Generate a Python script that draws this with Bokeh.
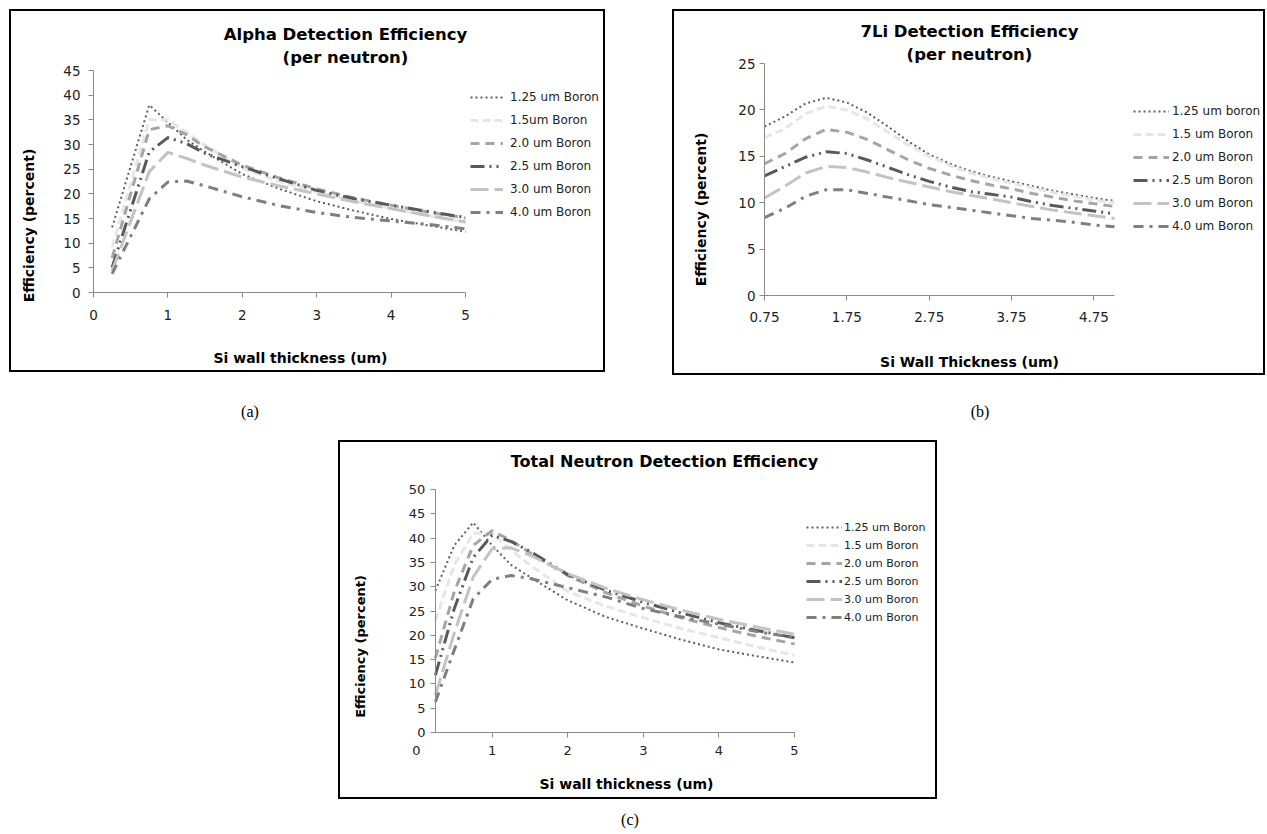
import math
from bokeh.plotting import figure
from bokeh.models import Label, Legend, LegendItem, FixedTicker, Range1d, Spacer, Div, LinearAxis
from bokeh.layouts import row, column
from bokeh.embed import file_html
from bokeh.resources import INLINE

# ---------------- data ----------------
labels_a = ["1.25 um Boron", "1.5um Boron", "2.0 um Boron", "2.5 um Boron", "3.0 um Boron", "4.0 um Boron"]
labels_b = ["1.25 um boron", "1.5 um Boron", "2.0 um Boron", "2.5 um Boron", "3.0 um Boron", "4.0 um Boron"]
labels_c = ["1.25 um Boron", "1.5 um Boron", "2.0 um Boron", "2.5 um Boron", "3.0 um Boron", "4.0 um Boron"]

# (a) Alpha detection efficiency
x_a = [0.25, 0.75, 1.0, 1.25, 1.5, 2.0, 2.5, 3.0, 3.5, 4.0, 4.5, 5.0]
a125 = [13.2, 38.0, 34.5, 31.0, 28.5, 24.0, 21.0, 18.5, 16.6, 14.9, 13.6, 12.3]
a15 = [9.2, 35.0, 35.0, 32.5, 29.8, 25.2, 22.5, 20.4, 18.6, 17.0, 15.6, 14.2]
a20 = [7.0, 33.0, 33.8, 32.0, 29.5, 25.8, 23.2, 21.0, 19.2, 17.7, 16.3, 15.1]
a25 = [5.1, 28.5, 31.4, 30.2, 28.2, 25.5, 23.0, 20.7, 19.0, 17.7, 16.4, 15.2]
a30 = [4.4, 24.5, 28.4, 27.2, 25.8, 23.4, 21.6, 20.0, 18.4, 17.0, 15.6, 14.3]
a40 = [3.8, 19.0, 22.4, 22.6, 21.6, 19.4, 17.6, 16.2, 15.2, 14.5, 13.8, 12.9]

# (b) 7Li detection efficiency
x_b = [0.75, 1.0, 1.25, 1.5, 1.75, 2.0, 2.25, 2.5, 2.75, 3.0, 3.25, 3.5, 3.75, 4.0, 4.25, 4.5, 4.75, 5.0]
b125 = [18.2, 19.3, 20.7, 21.3, 20.8, 19.7, 18.2, 16.6, 15.2, 14.2, 13.4, 12.8, 12.3, 11.8, 11.3, 10.9, 10.5, 10.2]
b15 = [17.0, 18.0, 19.6, 20.4, 20.0, 19.0, 17.6, 16.2, 15.0, 14.0, 13.2, 12.6, 12.1, 11.6, 11.1, 10.7, 10.3, 10.0]
b20 = [14.2, 15.3, 16.9, 17.9, 17.6, 16.8, 15.7, 14.6, 13.7, 13.0, 12.4, 11.9, 11.5, 11.0, 10.6, 10.2, 9.9, 9.6]
b25 = [12.9, 13.9, 14.9, 15.5, 15.3, 14.6, 13.8, 13.0, 12.3, 11.7, 11.2, 10.9, 10.6, 10.1, 9.7, 9.4, 9.1, 8.8]
b30 = [10.5, 11.8, 13.2, 13.9, 13.8, 13.3, 12.7, 12.2, 11.7, 11.2, 10.8, 10.4, 10.0, 9.6, 9.2, 8.9, 8.6, 8.3]
b40 = [8.4, 9.4, 10.7, 11.4, 11.4, 11.0, 10.6, 10.2, 9.8, 9.5, 9.2, 8.9, 8.6, 8.3, 8.1, 7.9, 7.6, 7.4]

# (c) Total neutron detection efficiency
x_c = [0.25, 0.5, 0.75, 1.0, 1.25, 1.5, 2.0, 2.5, 3.0, 3.5, 4.0, 4.5, 5.0]
c125 = [29.2, 38.5, 43.2, 38.5, 34.5, 32.0, 27.2, 23.8, 21.4, 19.1, 17.1, 15.7, 14.4]
c15 = [23.0, 34.5, 41.0, 41.0, 37.5, 34.5, 29.0, 26.0, 23.6, 21.4, 19.5, 17.6, 15.9]
c20 = [15.3, 29.0, 38.5, 41.5, 39.5, 37.0, 32.3, 28.8, 26.0, 23.6, 21.6, 19.8, 18.2]
c25 = [11.8, 25.5, 36.0, 40.6, 39.3, 37.3, 32.5, 29.3, 26.8, 24.6, 22.6, 21.0, 19.5]
c30 = [7.7, 20.5, 32.0, 37.8, 38.0, 36.5, 32.7, 29.7, 27.3, 25.2, 23.3, 21.7, 20.2]
c40 = [6.3, 17.0, 27.5, 31.5, 32.3, 31.7, 29.8, 27.9, 25.5, 23.8, 22.3, 20.8, 19.5]

ticks_a_x = [0, 1, 2, 3, 4, 5]
ticks_a_y = [0, 5, 10, 15, 20, 25, 30, 35, 40, 45]
ticks_b_x = [0.75, 1.75, 2.75, 3.75, 4.75]
ticks_b_y = [0, 5, 10, 15, 20, 25]
ticks_c_x = [1, 2, 3, 4, 5]
ticks_c_x0 = [0]
ticks_c_y = [0, 5, 10, 15, 20, 25, 30, 35, 40, 45, 50]

# ---------------- styles ----------------
STYLES = [
    dict(line_color="#5f5f5f", line_width=2, line_dash="2 3"),
    dict(line_color="#e6e6e6", line_width=3, line_dash="8 4"),
    dict(line_color="#a5a5a5", line_width=3, line_dash="9 6"),
    dict(line_color="#595959", line_width=3, line_dash="14 5 2 5 2 5"),
    dict(line_color="#c3c3c3", line_width=3, line_dash="18 6"),
    dict(line_color="#7f7f7f", line_width=3, line_dash="10 6 3 6"),
]
FONT = "DejaVu Sans"
AXIS_COL = "#8a8a8a"


def rng(v0, v1, lo_px, hi_px, total_px):
    k = (v1 - v0) / (total_px - lo_px - hi_px)
    return Range1d(v0 - lo_px * k, v1 + hi_px * k)


def style_axis(ax, ticks, standoff, fsize):
    ax.ticker = FixedTicker(ticks=ticks)
    ax.axis_line_color = AXIS_COL
    ax.major_tick_line_color = AXIS_COL
    ax.minor_tick_line_color = None
    ax.major_tick_in = 0
    ax.major_tick_out = 5
    ax.major_label_standoff = standoff
    ax.major_label_text_font = FONT
    ax.major_label_text_font_size = fsize
    ax.major_label_text_color = "#222222"


def make_panel(w, h, L, R, T, B, xd, yd, xt, yt, ycross, xbounds, xstand, ystand, fsize):
    # the frame covers the whole figure; axes sit at fixed data locations
    p = figure(width=w, height=h, x_range=rng(xd[0], xd[1], L, R, w),
               y_range=rng(yd[0], yd[1], B, T, h),
               output_backend="svg", toolbar_location=None, min_border=0)
    p.title = None
    p.xgrid.visible = False
    p.ygrid.visible = False
    p.outline_line_color = None
    p.background_fill_color = "white"
    p.border_fill_color = "white"
    xa = p.xaxis[0]
    ya = p.yaxis[0]
    xa.fixed_location = yd[0]
    xa.bounds = xbounds
    ya.fixed_location = ycross
    ya.bounds = (yd[0], yd[1])
    style_axis(xa, xt, xstand, fsize)
    style_axis(ya, yt, ystand, fsize)
    p.styles = {"outline": "2px solid #000000"}
    return p


def add_text(p, x, y, text, size, angle=0.0):
    p.add_layout(Label(x=x, y=y, x_units="screen", y_units="screen", text=text,
                       text_align="center", text_baseline="middle",
                       text_font=FONT, text_font_size=size, text_font_style="bold",
                       text_color="black", angle=angle))


def add_series(p, xs, series, labels, loc, gw, gh, spacing, standoff, fsize):
    items = []
    for ys, lab, st in zip(series, labels, STYLES):
        r = p.line(x=xs, y=ys, line_join="round", **st)
        items.append(LegendItem(label=lab, renderers=[r]))
    leg = Legend(items=items, location=loc, padding=0, margin=0, spacing=spacing,
                 glyph_width=gw, glyph_height=gh, label_height=gh, label_standoff=standoff,
                 border_line_color=None, background_fill_alpha=0,
                 label_text_font=FONT, label_text_font_size=fsize,
                 label_text_color="#222222", label_text_baseline="middle")
    p.add_layout(leg)


# ---------------- panel (a) ----------------
pa = make_panel(592, 359, 82, 138, 59, 78, (0, 5), (0, 45), ticks_a_x, ticks_a_y,
                0, (0, 5), 12, 8, "13.5px")
add_series(pa, x_a, [a125, a15, a20, a25, a30, a40], labels_a, (459, 148), 33, 20, 3, 7, "12px")
add_text(pa, 334, 336, "Alpha Detection Efficiency", "16.5px")
add_text(pa, 334, 313, "(per neutron)", "16.5px")
add_text(pa, 289, 13, "Si wall thickness (um)", "14px")
add_text(pa, 17, 145, "Efficiency (percent)", "14px", angle=math.pi / 2)

# ---------------- panel (b) ----------------
pb = make_panel(589, 362, 90, 149, 52, 78, (0.75, 5.0), (0, 25), ticks_b_x, ticks_b_y,
                0.75, (0.75, 5.0), 11, 4, "13.5px")
add_series(pb, x_b, [b125, b15, b20, b25, b30, b40], labels_b, (459, 137), 36, 20, 3, 3, "12px")
add_text(pb, 295, 342, "7Li Detection Efficiency", "16.5px")
add_text(pb, 295, 319, "(per neutron)", "16.5px")
add_text(pb, 295, 12, "Si Wall Thickness (um)", "14px")
add_text(pb, 26, 164, "Efficiency (percent)", "14px", angle=math.pi / 2)

# ---------------- panel (c) ----------------
pc = make_panel(595, 355, 76, 141, 47, 65, (0, 5), (0, 50), ticks_c_x, ticks_c_y,
                0.25, (0.25, 5), 8, 5, "13px")
ax0 = LinearAxis(fixed_location=0, bounds=(0, 5))
style_axis(ax0, ticks_c_x0, 8, "13px")
ax0.axis_line_alpha = 0
ax0.major_tick_line_alpha = 0
pc.add_layout(ax0, "below")
add_series(pc, x_c, [c125, c15, c20, c25, c30, c40], labels_c, (466, 172), 36, 16, 2, 2, "11px")
add_text(pc, 324, 336, "Total Neutron Detection Efficiency", "16px")
add_text(pc, 286, 14, "Si wall thickness (um)", "14px")
add_text(pc, 20, 151, "Efficiency (percent)", "13px", angle=math.pi / 2)


def cap(t):
    return Div(text=t, width=40, height=16,
               styles={"font-family": "'Liberation Serif', 'Times New Roman', serif",
                       "font-size": "16px", "line-height": "16px",
                       "text-align": "center", "color": "black"})


row1 = row(Spacer(width=11, height=1), pa, Spacer(width=71, height=1), pb)
caprow = row(Spacer(width=225, height=1), cap("(a)"), Spacer(width=680, height=1), cap("(b)"))
rowc = row(Spacer(width=340, height=1), pc)
caprowc = row(Spacer(width=605, height=1), cap("(c)"))
layout = column(Spacer(width=1, height=11), row1, Spacer(width=1, height=26), caprow,
                Spacer(width=1, height=17), rowc, Spacer(width=1, height=10), caprowc)

open("out.html", "w").write(file_html(layout, INLINE))
